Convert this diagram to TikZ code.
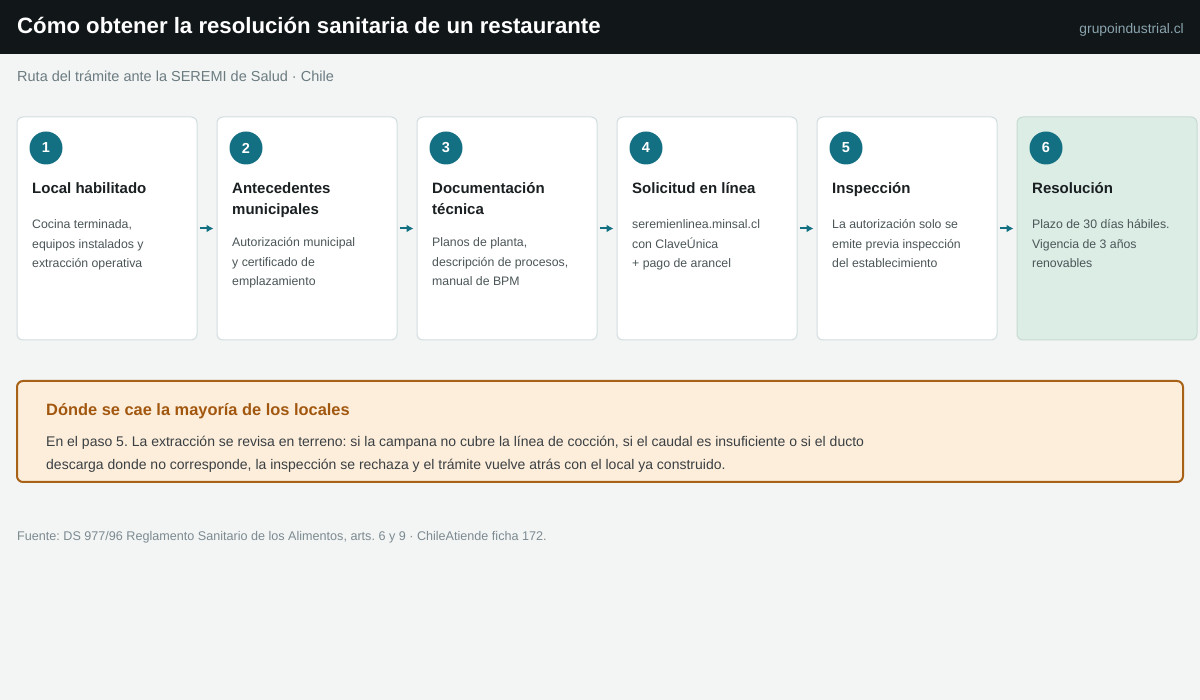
\documentclass[tikz,border=0pt]{standalone}
\usepackage{fontspec}
\setmainfont{Liberation Sans}
\usetikzlibrary{arrows.meta}
\frenchspacing

\definecolor{headbg}{HTML}{111619}
\definecolor{pagebg}{HTML}{F3F5F5}
\definecolor{sitegrey}{HTML}{8AA4AD}
\definecolor{subgrey}{HTML}{6B7B80}
\definecolor{cardline}{HTML}{D3DDE0}
\definecolor{donefill}{HTML}{DCEDE5}
\definecolor{doneline}{HTML}{C6DBD1}
\definecolor{stepteal}{HTML}{136F82}
\definecolor{titleink}{HTML}{1A1F22}
\definecolor{bodyink}{HTML}{4B5558}
\definecolor{warnfill}{HTML}{FDEEDC}
\definecolor{warnline}{HTML}{A86218}
\definecolor{warnink}{HTML}{A2570F}
\definecolor{warnbody}{HTML}{3A3F42}
\definecolor{footink}{HTML}{7C8A90}

\begin{document}
\begin{tikzpicture}[x=1pt,y=-1pt,
	txt/.style={anchor=base west, inner sep=0pt, align=left},
	card/.style={draw=cardline, fill=white, line width=1pt, rounded corners=6pt, minimum width=180pt, minimum height=223pt, inner sep=0pt},
	num/.style={circle, fill=stepteal, text=white, minimum size=33pt, inner sep=0pt, font=\bfseries\fontsize{14.5}{14}\selectfont},
	head/.style={txt, text=titleink, font=\bfseries\fontsize{15}{21}\selectfont},
	body/.style={txt, text=bodyink, font=\fontsize{12.3}{19.5}\selectfont},
	flow/.style={stepteal, line width=2pt, -{Latex[length=7pt,width=8pt]}, shorten <=2pt, shorten >=3pt}]

		\fill[pagebg] (0,0) rectangle (1200,700);
		\fill[headbg] (0,0) rectangle (1200,54);

		\node (title) [txt, at={(17,34)}, text=white, font=\bfseries\fontsize{22.2}{22}\selectfont] {Cómo obtener la resolución sanitaria de un restaurante};
		\node (site) [txt, anchor=base east, at={(1184,34)}, text=sitegrey, font=\fontsize{13.8}{14}\selectfont] {grupoindustrial.cl};
		\node (sub) [txt, at={(17,82)}, text=subgrey, font=\fontsize{14.5}{14}\selectfont] {Ruta del trámite ante la SEREMI de Salud · Chile};

		\node (c1) [card, at={(107,228.5)}] {};
		\node (c2) [card, at={(307,228.5)}] {};
		\node (c3) [card, at={(507,228.5)}] {};
		\node (c4) [card, at={(707,228.5)}] {};
		\node (c5) [card, at={(907,228.5)}] {};
		\node (c6) [card, at={(1107,228.5)}, fill=donefill, draw=doneline] {};

		\draw[flow] (c1.east) -- (c2.west);
		\draw[flow] (c2.east) -- (c3.west);
		\draw[flow] (c3.east) -- (c4.west);
		\draw[flow] (c4.east) -- (c5.west);
		\draw[flow] (c5.east) -- (c6.west);

		\node (n1) [num, at={(46,148)}] {1};
		\node (n2) [num, at={(246,148)}] {2};
		\node (n3) [num, at={(446,148)}] {3};
		\node (n4) [num, at={(646,148)}] {4};
		\node (n5) [num, at={(846,148)}] {5};
		\node (n6) [num, at={(1046,148)}] {6};

		\node (h1) [head, at={(32,194)}] {Local habilitado};
		\node (h2) [head, at={(232,215)}] {Antecedentes\\municipales};
		\node (h3) [head, at={(432,215)}] {Documentación\\técnica};
		\node (h4) [head, at={(632,194)}] {Solicitud en línea};
		\node (h5) [head, at={(832,194)}] {Inspección};
		\node (h6) [head, at={(1032,194)}] {Resolución};

		\node (b1) [body, at={(32,268)}] {Cocina terminada,\\equipos instalados y\\extracción operativa};
		\node (b2) [body, at={(232,286)}] {Autorización municipal\\y certificado de\\emplazamiento};
		\node (b3) [body, at={(432,286)}] {Planos de planta,\\descripción de procesos,\\manual de BPM};
		\node (b4) [body, at={(632,268)}] {seremienlinea.minsal.cl\\con ClaveÚnica\\+ pago de arancel};
		\node (b5) [body, at={(832,268)}] {La autorización solo se\\emite previa inspección\\del establecimiento};
		\node (b6) [body, at={(1032,268)}] {Plazo de 30 días hábiles.\\Vigencia de 3 años\\renovables};

		\draw[warnline, fill=warnfill, line width=2pt, rounded corners=6pt] (17,381) rectangle (1183,482);
		\node (wt) [txt, at={(46,416)}, text=warnink, font=\bfseries\fontsize{16.4}{16}\selectfont] {Dónde se cae la mayoría de los locales};
		\node (wb) [txt, at={(46,470)}, text=warnbody, font=\fontsize{14}{24}\selectfont] {En el paso 5. La extracción se revisa en terreno: si la campana no cubre la línea de cocción, si el caudal es insuficiente o si el ducto\\descarga donde no corresponde, la inspección se rechaza y el trámite vuelve atrás con el local ya construido.};

		\node (src) [txt, at={(17,540)}, text=footink, font=\fontsize{12.6}{12}\selectfont] {Fuente: DS 977/96 Reglamento Sanitario de los Alimentos, arts. 6 y 9 · ChileAtiende ficha 172.};

	\end{tikzpicture}
\end{document}
